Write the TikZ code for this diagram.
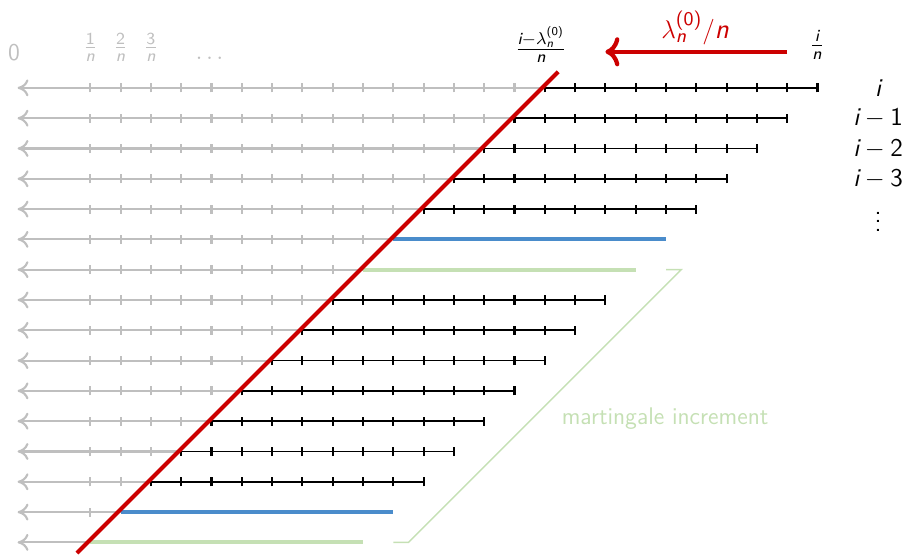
\documentclass[tikz,border=0pt]{standalone}
\usepackage{amsmath}
\usetikzlibrary{arrows.meta}
\definecolor{lightgrey}{HTML}{BFBFBF}
\definecolor{darkred}{HTML}{CC0000}
\definecolor{midblue}{HTML}{4A8CCB}
\definecolor{palegreen}{HTML}{C5E0B4}
% sans letters and digits inside formulas
\newcommand{\vi}{\text{\sffamily\itshape i}}
\newcommand{\vn}{\text{\sffamily\itshape n}}
\newcommand{\dg}[1]{\text{\sffamily #1}}
\tikzset{
  greyrow/.style={-{Computer Modern Rightarrow[length=1.8mm, width=2.8mm]}, line width=1pt, draw=lightgrey},
  blackrow/.style={line width=0.8pt, draw=black},
  tickmark/.style={line width=1pt},
  bluerow/.style={line width=1.8pt, draw=midblue},
  greenrow/.style={line width=1.8pt, draw=palegreen},
  crossline/.style={line width=1.9pt, draw=darkred},
  shiftarrow/.style={-{Computer Modern Rightarrow[length=2.3mm, width=4.8mm]}, line width=2pt, draw=darkred},
  bracket/.style={line width=0.7pt, draw=palegreen},
  axislabel/.style={font=\fontsize{11.3}{13}\selectfont\sffamily, text=lightgrey, inner sep=1pt},
  rowlabel/.style={font=\fontsize{12}{14}\selectfont\sffamily, inner sep=1pt}
}
\begin{document}
\sffamily
\begin{tikzpicture}[x=0.5cm, y=0.5cm]
\useasboundingbox (-1.98,-15.51) rectangle (27.92,2.90);
% grey part of every row, back to zero
\foreach \r in {0,...,15}{
  \pgfmathtruncatemacro\cross{16-\r}
  \draw[greyrow] (\cross,-\r) -- (-1.4,-\r);
}
\foreach \r in {0,...,14}{
  \pgfmathtruncatemacro\last{15-\r}
  \foreach \k in {1,...,\last}
    \draw[tickmark, lightgrey] (\k,-\r-0.15) -- (\k,-\r+0.15);
}
% black rows with ticks
\foreach \r in {0,1,2,3,4,7,8,9,10,11,12,13}{
  \pgfmathtruncatemacro\cross{16-\r}
  \pgfmathtruncatemacro\stop{25-\r}
  \draw[blackrow] (\cross,-\r) -- (\stop,-\r);
  \foreach \k in {\cross,...,\stop}
    \draw[tickmark] (\k,-\r-0.15) -- (\k,-\r+0.15);
}
% coloured rows
\foreach \r in {5,14}
  \draw[bluerow] ({16-\r},-\r) -- ({25-\r},-\r);
\foreach \r in {6,15}
  \draw[greenrow] ({16-\r},-\r) -- ({25-\r},-\r);
% red line
\coordinate (lowend) at (0.56,-15.35);
\coordinate (highend) at (16.44,0.53);
\draw[crossline] (lowend) -- (highend);
% labels on top
\node[axislabel] (zero) at (-1.52,1.16) {0};
\foreach \k in {1,2,3}
  \node[axislabel] (frac\k) at (\k,1.35) {$\frac{\dg{\k}}{\vn}$};
\node[axislabel, anchor=base] (dots) at (5,0.92) {$\dots$};
\node[axislabel, text=black] (lower) at (15.87,1.42) {$\frac{\vi-\lambda_{\vn}^{\dg{(0)}}}{\vn}$};
\node[axislabel, text=black] (upper) at (24.98,1.42) {$\frac{\vi}{\vn}$};
\coordinate (shiftstart) at (24,1.19);
\coordinate (shiftend) at (18,1.19);
\draw[shiftarrow] (shiftstart) -- (shiftend);
\node[rowlabel, text=darkred, font=\fontsize{13}{15}\selectfont\sffamily] (shift) at (20.96,1.98) {$\lambda_{\vn}^{\dg{(0)}}/\vn$};
% labels on the right
\node[rowlabel] (row0) at (27,0) {$\vi$};
\foreach \r in {1,2,3}
  \node[rowlabel] (row\r) at (27,-\r) {$\vi-\dg{\r}$};
\node[rowlabel] (rowdots) at (27,-4.2) {$\vdots$};
% martingale bracket
\coordinate (b1) at (11,-15);
\coordinate (b2) at (11.5,-15);
\coordinate (b3) at (20.5,-6);
\coordinate (b4) at (20,-6);
\draw[bracket] (b1) -- (b2) -- (b3) -- (b4);
\node[axislabel, text=palegreen] (mart) at (19.97,-10.9) {martingale increment};
\end{tikzpicture}
\end{document}
